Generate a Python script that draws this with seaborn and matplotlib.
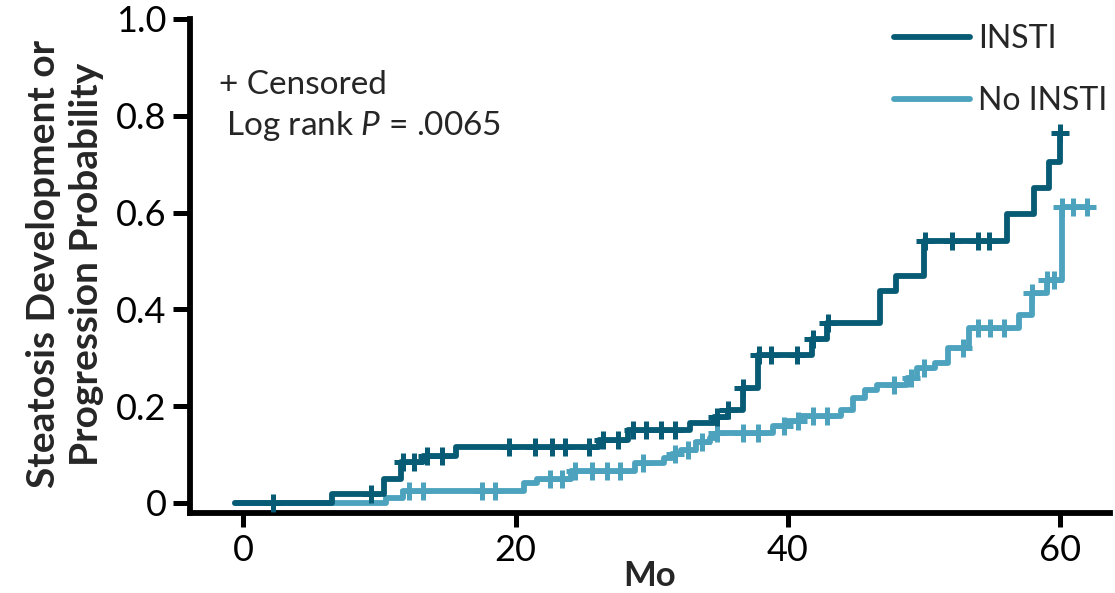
import numpy as np
import pandas as pd
import matplotlib
matplotlib.use("Agg")
import matplotlib.pyplot as plt
from matplotlib.lines import Line2D
import seaborn as sns

# Kaplan-Meier style cumulative incidence, months of follow-up
groups = ["INSTI", "No INSTI"]
colors = {"INSTI": "#075B74", "No INSTI": "#4DA3BE"}

insti_times = [-0.6, 6.5, 10.3, 11.6, 13.2, 15.6, 26.1, 28.3, 32.8, 34.6, 35.6,
               36.7, 37.8, 41.8, 42.9, 46.8, 48.0, 50.0, 56.1, 58.1, 59.2, 60.0]
insti_probs = [0.0, 0.018, 0.05, 0.085, 0.096, 0.116, 0.13, 0.15, 0.166, 0.178, 0.192,
               0.237, 0.306, 0.338, 0.372, 0.437, 0.468, 0.542, 0.597, 0.65, 0.705, 0.764]
insti_censored = [2.2, 9.4, 11.7, 12.5, 13.5, 14.6, 19.5, 21.4, 22.7, 23.6, 25.4,
                  26.4, 27.5, 28.6, 29.6, 30.7, 31.7, 34.8, 35.6, 36.7, 37.9, 38.8,
                  40.7, 41.9, 43.0, 50.1, 52.1, 54.0, 54.8, 60.0]

no_insti_times = [-0.6, 10.5, 11.7, 20.6, 21.6, 24.1, 28.8, 30.9, 31.5, 32.2, 33.3,
                  34.3, 34.8, 38.9, 40.0, 40.9, 43.9, 44.8, 45.7, 46.6, 48.8, 49.5,
                  50.8, 51.8, 53.3, 57.0, 58.0, 59.1, 60.2, 62.0]
no_insti_probs = [0.0, 0.010, 0.025, 0.040, 0.050, 0.066, 0.082, 0.092, 0.101, 0.110, 0.125,
                  0.135, 0.145, 0.158, 0.170, 0.180, 0.192, 0.217, 0.233, 0.244, 0.258, 0.279,
                  0.289, 0.320, 0.362, 0.388, 0.434, 0.461, 0.612, 0.612]
no_insti_censored = [12.2, 13.2, 17.5, 18.5, 22.5, 23.4, 24.4, 25.6, 26.7, 27.7, 29.4,
                     31.7, 32.7, 33.7, 34.8, 36.7, 37.8, 39.7, 40.8, 41.9, 42.9, 47.8,
                     49.1, 50.0, 52.9, 54.0, 54.9, 55.9, 58.0, 59.1, 59.6, 60.2, 61.0, 62.0]

x_ticks = [0, 20, 40, 60]
y_ticks = [0, 0.2, 0.4, 0.6, 0.8, 1.0]
y_tick_labels = ["0", "0.2", "0.4", "0.6", "0.8", "1.0"]

curves = {
    "INSTI": (insti_times, insti_probs, insti_censored),
    "No INSTI": (no_insti_times, no_insti_probs, no_insti_censored),
}


def level_at(times, probs, t):
    idx = np.searchsorted(np.asarray(times), t, side="right") - 1
    return np.asarray(probs)[idx]


sns.set_theme(style="white")
plt.rcParams["font.family"] = ["Lato", "DejaVu Sans"]
plt.rcParams["mathtext.fontset"] = "custom"
plt.rcParams["mathtext.rm"] = "Lato"
plt.rcParams["mathtext.it"] = "Lato:italic"

fig = plt.figure(figsize=(11.15, 5.93), dpi=100)
ax = fig.add_axes([190 / 1115, 80 / 593, 920 / 1115, 494 / 593])

for g in ["No INSTI", "INSTI"]:
    t, p, c = curves[g]
    df = pd.DataFrame({"month": t, "prob": p})
    sns.lineplot(data=df, x="month", y="prob", ax=ax, color=colors[g],
                 estimator=None, sort=False, drawstyle="steps-post",
                 linewidth=4.2, legend=False)
    cdf = pd.DataFrame({"month": c, "prob": level_at(t, p, np.asarray(c))})
    sns.scatterplot(data=cdf, x="month", y="prob", ax=ax, color=colors[g],
                    marker="+", s=175, linewidth=3.6, legend=False, zorder=3)

ax.set_xlim(-3.93, 63.7)
ax.set_ylim(-0.021, 1.0)
ax.set_xticks(x_ticks)
ax.set_yticks(y_ticks)
ax.set_yticklabels(y_tick_labels)
ax.set_xlabel("")
ax.set_ylabel("")

for side in ["top", "right"]:
    ax.spines[side].set_visible(False)
for side in ["left", "bottom"]:
    ax.spines[side].set_linewidth(4.2)
    ax.spines[side].set_color("black")

ax.tick_params(axis="y", length=12, width=3.6, color="black", pad=5,
               labelsize=26, labelcolor="black", left=True)
ax.tick_params(axis="x", length=10, width=3.6, color="black", pad=5,
               labelsize=26, labelcolor="black", bottom=True)

fig.text(650 / 1115, 1 / 593, "Mo", fontsize=25, fontweight="bold",
         ha="center", va="bottom")
fig.text(65 / 1115, 1 - 264 / 593,
         "Steatosis Development or\nProgression Probability",
         rotation=90, fontsize=28, fontweight="bold", ha="center", va="center",
         multialignment="center", linespacing=1.25)

fig.text(219 / 1115, 1 - 94 / 593, "+ Censored", fontsize=24, ha="left", va="baseline")
fig.text(226 / 1115, 1 - 135 / 593, "Log rank $P$ = .0065", fontsize=24,
         ha="left", va="baseline")

handles = [Line2D([], [], color=colors[g], linewidth=4.2) for g in groups]
ax.legend(handles, groups, loc="upper left", bbox_to_anchor=(894 / 1115, 1 - 24 / 593),
          bbox_transform=fig.transFigure, frameon=False, fontsize=23,
          handlelength=2.38, handletextpad=0.25, labelspacing=1.0,
          borderpad=0, borderaxespad=0)

fig.savefig("out.png", dpi=100)
